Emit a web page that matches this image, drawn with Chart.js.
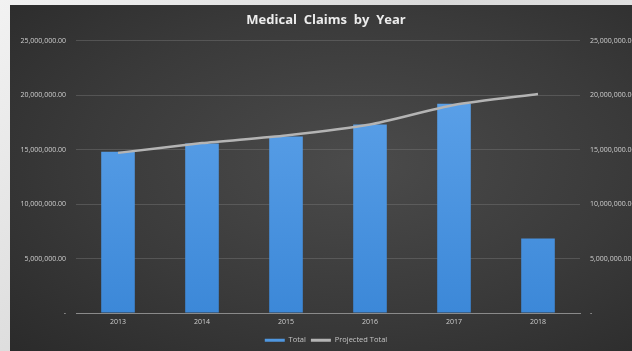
<!DOCTYPE html>
<html>
<head>
<meta charset="utf-8">
<script src="https://cdn.jsdelivr.net/npm/chart.js@4.4.1/dist/chart.umd.min.js"></script>
<style>
    html, body { margin: 0; padding: 0; overflow: hidden; }
    body {
        width: 632px; height: 351px;
        background: linear-gradient(135deg, #f2f2f2 0%, #d9d9d9 45%, #eeeeee 100%);
        position: relative;
    }
    #panel {
        position: absolute; left: 10px; top: 5px;
        width: 632px; height: 351px;
        background: radial-gradient(ellipse at 55% 45%, #4b4b4b 0%, #3a3a3a 55%, #2a2a2a 100%);
    }
</style>
</head>
<body>
<div id="panel"><canvas id="claims-chart" width="632" height="351"></canvas></div>
<script>
// Medical claims chart data
const years = ['2013', '2014', '2015', '2016', '2017', '2018'];
const totals = [14800000, 15550000, 16200000, 17300000, 19200000, 6850000];
const projectedTotals = [14700000, 15600000, 16300000, 17300000, 19100000, 20100000];

function moneyLabel(value) {
    if (value === 0) return '-';
    return value.toLocaleString('en-US', { minimumFractionDigits: 2, maximumFractionDigits: 2 });
}

function barGradient(context) {
    const chart = context.chart;
    const area = chart.chartArea;
    if (!area) return '#4a90d9';
    const g = chart.ctx.createLinearGradient(0, area.top, 0, area.bottom);
    g.addColorStop(0, '#62a6ec');
    g.addColorStop(1, '#3c88d8');
    return g;
}

const tickFont = { family: 'Open Sans', size: 7 };

function createClaimsChart() {
    const ctx = document.getElementById('claims-chart');
    if (!ctx) return;

    new Chart(ctx, {
        type: 'bar',
        data: {
            labels: years,
            datasets: [{
                type: 'line',
                label: 'Projected Total',
                data: projectedTotals,
                borderColor: '#b4b4b4',
                backgroundColor: '#b4b4b4',
                borderWidth: 2.5,
                pointRadius: 0,
                tension: 0.2,
                yAxisID: 'y',
                order: 0
            }, {
                label: 'Total',
                data: totals,
                backgroundColor: barGradient,
                borderWidth: 0,
                categoryPercentage: 0.8,
                barPercentage: 0.5,
                yAxisID: 'y',
                order: 1
            }]
        },
        options: {
            responsive: false,
            animation: false,
            layout: {
                padding: { top: 2, bottom: 2, left: 0, right: 0 }
            },
            scales: {
                x: {
                    grid: { display: false, drawTicks: false },
                    border: { color: '#8a8a8a', width: 1 },
                    ticks: { color: '#cfcfcf', font: tickFont, padding: 5 }
                },
                y: {
                    position: 'left',
                    min: 0,
                    max: 25000000,
                    grid: { color: 'rgba(120,120,120,0.45)', drawTicks: false },
                    border: { display: false },
                    ticks: {
                        stepSize: 5000000,
                        color: '#cfcfcf',
                        font: tickFont,
                        padding: 10,
                        callback: moneyLabel
                    },
                    afterFit: function(scale) { scale.width = 66; }
                },
                y2: {
                    position: 'right',
                    min: 0,
                    max: 25000000,
                    grid: { display: false, drawTicks: false },
                    border: { display: false },
                    ticks: {
                        stepSize: 5000000,
                        color: '#cfcfcf',
                        font: tickFont,
                        padding: 10,
                        callback: moneyLabel
                    },
                    afterFit: function(scale) { scale.width = 62; }
                }
            },
            plugins: {
                title: {
                    display: true,
                    text: 'Medical  Claims  by  Year',
                    color: '#ececec',
                    font: { family: 'Open Sans', size: 13, weight: 'bold' },
                    padding: { top: 5, bottom: 13 }
                },
                legend: {
                    position: 'bottom',
                    reverse: true,
                    labels: {
                        color: '#c4c4c4',
                        font: { family: 'Open Sans', size: 7.5 },
                        boxWidth: 20,
                        boxHeight: 3,
                        padding: 5,
                        generateLabels: function(chart) {
                            return chart.data.datasets.map(function(ds, i) {
                                return {
                                    text: ds.label,
                                    fillStyle: i === 1 ? '#4f97e0' : '#b4b4b4',
                                    strokeStyle: i === 1 ? '#4f97e0' : '#b4b4b4',
                                    lineWidth: 0,
                                    fontColor: '#c4c4c4',
                                    datasetIndex: i
                                };
                            });
                        }
                    }
                },
                tooltip: { enabled: false }
            }
        }
    });
}

createClaimsChart();
</script>
</body>
</html>
